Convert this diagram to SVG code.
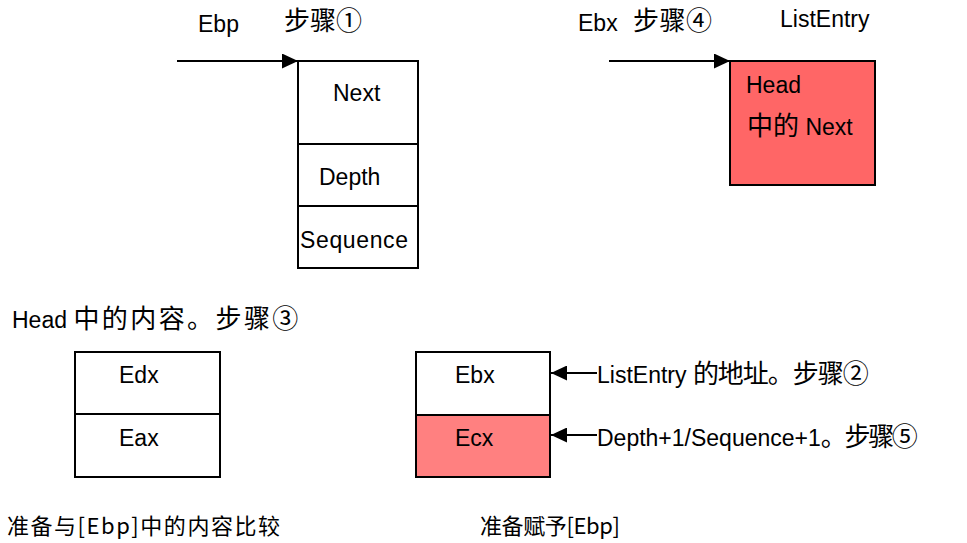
<svg xmlns="http://www.w3.org/2000/svg" width="967" height="543" viewBox="0 0 967 543">
  <style>
    .box{fill:#fff;stroke:#000;stroke-width:2}
    .red{fill:#ff6666}
    .pink{fill:#ff8080}
    .t{font-family:"Liberation Sans","Noto Sans CJK SC",sans-serif;font-size:23px;fill:#000}
    .c{font-family:"Noto Sans CJK SC",sans-serif;font-size:26px}
    .cap{font-family:"Noto Sans CJK SC","Liberation Mono",monospace;font-size:22px;fill:#000}
    .wire{stroke:#000;stroke-width:2;fill:none}
  </style>
  <defs>
    <marker id="arr" markerWidth="8" markerHeight="7.5" refX="8" refY="3.75" orient="auto" markerUnits="strokeWidth">
      <path d="M0,0 L8,3.75 L0,7.5z" fill="#000"/>
    </marker>
  </defs>
  <rect width="967" height="543" fill="#fff"/>

  <!-- free labels -->
  <g id="labels">
    <text class="t" x="198" y="32">Ebp</text>
    <text class="t c" x="284" y="30" textLength="78">步骤①</text>
    <text class="t" x="578" y="31">Ebx</text>
    <text class="t c" x="633" y="30" textLength="79">步骤④</text>
    <text class="t" x="780" y="27">ListEntry</text>
    <text class="t" x="12" y="328">Head <tspan class="c" textLength="225">中的内容。步骤③</tspan></text>
    <text class="t" x="597" y="383">ListEntry <tspan class="c" textLength="176">的地址。步骤②</tspan></text>
    <text class="t" x="597" y="446">Depth+1/Sequence+1<tspan class="c" textLength="97">。步骤⑤</tspan></text>
    <text class="cap" x="7" y="534" textLength="273">准备与[Ebp]中的内容比较</text>
    <text class="cap" x="480" y="534" textLength="140">准备赋予[Ebp]</text>
  </g>

  <!-- stack frame at Ebp -->
  <g id="ebp-frame">
    <rect class="box" x="298" y="61" width="120" height="207"/>
    <line class="wire" x1="298" y1="144" x2="418" y2="144"/>
    <line class="wire" x1="298" y1="206" x2="418" y2="206"/>
    <text class="t" x="333" y="101">Next</text>
    <text class="t" x="319" y="185">Depth</text>
    <text class="t" x="300" y="248" textLength="108">Sequence</text>
  </g>

  <!-- ListEntry node -->
  <g id="list-entry">
    <rect class="box red" x="730" y="61" width="145" height="124"/>
    <text class="t" x="746" y="93">Head</text>
    <text class="t" x="747" y="135"><tspan class="c">中的</tspan> Next</text>
  </g>

  <!-- Edx/Eax pair -->
  <g id="edx-eax">
    <rect class="box" x="75" y="352" width="145" height="125"/>
    <line class="wire" x1="75" y1="414" x2="220" y2="414"/>
    <text class="t" x="119" y="383">Edx</text>
    <text class="t" x="119" y="446">Eax</text>
  </g>

  <!-- Ebx/Ecx pair -->
  <g id="ebx-ecx">
    <rect class="box" x="416" y="352" width="134" height="63"/>
    <rect class="box pink" x="416" y="415" width="134" height="62"/>
    <text class="t" x="455" y="383">Ebx</text>
    <text class="t" x="455" y="446">Ecx</text>
  </g>

  <!-- connectors -->
  <g id="connectors">
    <path class="wire" d="M177,61 L298,61" marker-end="url(#arr)"/>
    <path class="wire" d="M609,61 L730,61" marker-end="url(#arr)"/>
    <path class="wire" d="M597,373 L551,373" marker-end="url(#arr)"/>
    <path class="wire" d="M597,435 L551,435" marker-end="url(#arr)"/>
  </g>
</svg>
